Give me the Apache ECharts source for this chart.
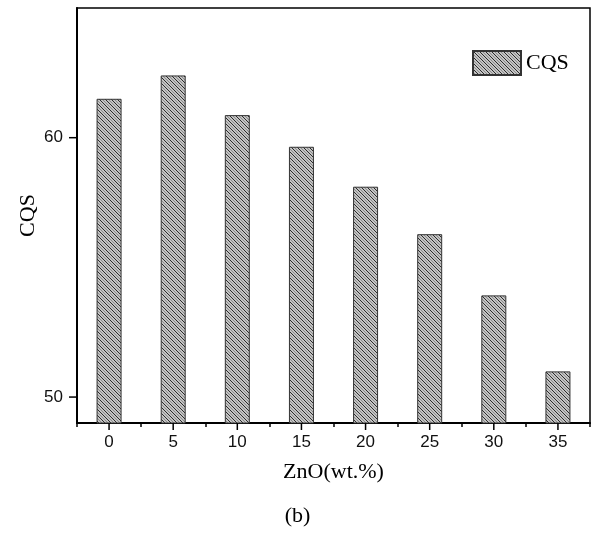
<!DOCTYPE html>
<html>
<head>
<meta charset="utf-8">
<script src="https://cdn.jsdelivr.net/npm/echarts@6/dist/echarts.min.js"></script>
<style>
html,body{margin:0;padding:0;background:#fff;}
#main{width:595px;height:538px;}
</style>
</head>
<body>
<div id="main"></div>
<script>
var categories = ['0', '5', '10', '15', '20', '25', '30', '35'];
var cqsValues = [61.5, 62.4, 60.87, 59.65, 58.11, 56.28, 53.92, 50.99];
var yMin = 49, yMax = 65;
var yTickValues = [50, 60];
var seriesName = 'CQS';
var xAxisName = 'ZnO(wt.%)';
var yAxisName = 'CQS';
var caption = '(b)';

function makePattern() {
  var c = document.createElement('canvas');
  c.width = 6; c.height = 6;
  var ctx = c.getContext('2d');
  ctx.fillStyle = '#c4c4c4';
  ctx.fillRect(0, 0, 6, 6);
  ctx.lineWidth = 1;
  ctx.strokeStyle = '#8c8c8c';
  [-3, 3, 9].forEach(function (k) {
    ctx.beginPath(); ctx.moveTo(k - 6, -6); ctx.lineTo(k + 6, 6); ctx.stroke();
  });
  ctx.strokeStyle = '#2a2a2a';
  [-6, 0, 6].forEach(function (k) {
    ctx.beginPath(); ctx.moveTo(k - 6, -6); ctx.lineTo(k + 6, 6); ctx.stroke();
  });
  return c;
}

var W = 595, H = 538;
var chart = echarts.init(document.getElementById('main'), null, {renderer: 'canvas', width: W, height: H});
var pattern = {image: makePattern(), repeat: 'repeat'};
var gridPos = {left: 77, top: 8, right: 5, bottom: 115};

// major tick marks, placed through the axes' own scales
function renderXTick(params, api) {
  var p = api.coord([api.value(0), api.value(1)]);
  return {type: 'rect', shape: {x: p[0] - 0.75, y: p[1], width: 1.5, height: 7},
    style: {fill: '#000'}, silent: true};
}
function renderYTick(params, api) {
  var p = api.coord([api.value(0), api.value(1)]);
  var x0 = p[0] - api.size([1, 0])[0] / 2;
  return {type: 'rect', shape: {x: x0 - 8, y: p[1] - 0.75, width: 8, height: 1.5},
    style: {fill: '#000'}, silent: true};
}

chart.setOption({
  backgroundColor: '#fff',
  animation: false,
  legend: {
    left: 467, top: 45,
    itemWidth: 48, itemHeight: 24, itemGap: 5,
    icon: 'rect',
    data: [seriesName],
    textStyle: {fontFamily: 'Liberation Serif', fontSize: 22, color: '#000'}
  },
  grid: [Object.assign({show: true, borderColor: '#000', borderWidth: 1.5, backgroundColor: 'transparent'}, gridPos)],
  xAxis: [{
    type: 'category', data: categories,
    name: xAxisName, nameLocation: 'middle', nameGap: 38,
    nameTextStyle: {fontFamily: 'Liberation Serif', fontSize: 22, color: '#000'},
    axisLine: {show: true, lineStyle: {color: '#000', width: 2}},
    axisTick: {show: true, alignWithLabel: false, length: 4, inside: false, lineStyle: {color: '#000', width: 1.5}},
    axisLabel: {show: true, fontFamily: 'Liberation Sans', fontSize: 17, color: '#111', margin: 11}
  }],
  yAxis: [{
    type: 'value', min: yMin, max: yMax,
    name: yAxisName, nameLocation: 'middle', nameGap: 38, nameRotate: 90, nameMoveOverlap: false,
    nameTextStyle: {fontFamily: 'Liberation Serif', fontSize: 22, color: '#000'},
    axisLine: {show: true, lineStyle: {color: '#000', width: 2}},
    axisTick: {show: false},
    axisLabel: {show: true, customValues: yTickValues, fontFamily: 'Liberation Sans', fontSize: 17, color: '#111', margin: 14},
    splitLine: {show: false}
  }],
  series: [{
    name: seriesName, type: 'bar',
    data: cqsValues, barWidth: 25,
    itemStyle: {color: pattern, borderColor: '#333', borderWidth: 1}
  }, {
    name: 'xticks', type: 'custom', clip: false, silent: true, z: 10,
    data: categories.map(function (c, i) { return [i, yMin]; }),
    encode: {x: 0, y: 1},
    renderItem: renderXTick, tooltip: {show: false}
  }, {
    name: 'yticks', type: 'custom', clip: false, silent: true, z: 10,
    data: yTickValues.map(function (v) { return [0, v]; }),
    encode: {x: 0, y: 1},
    renderItem: renderYTick, tooltip: {show: false}
  }],
  graphic: [{
    type: 'text', left: 'center', top: 505,
    style: {text: caption, font: '22px "Liberation Serif"', fill: '#000'}
  }]
});
</script>
</body>
</html>
